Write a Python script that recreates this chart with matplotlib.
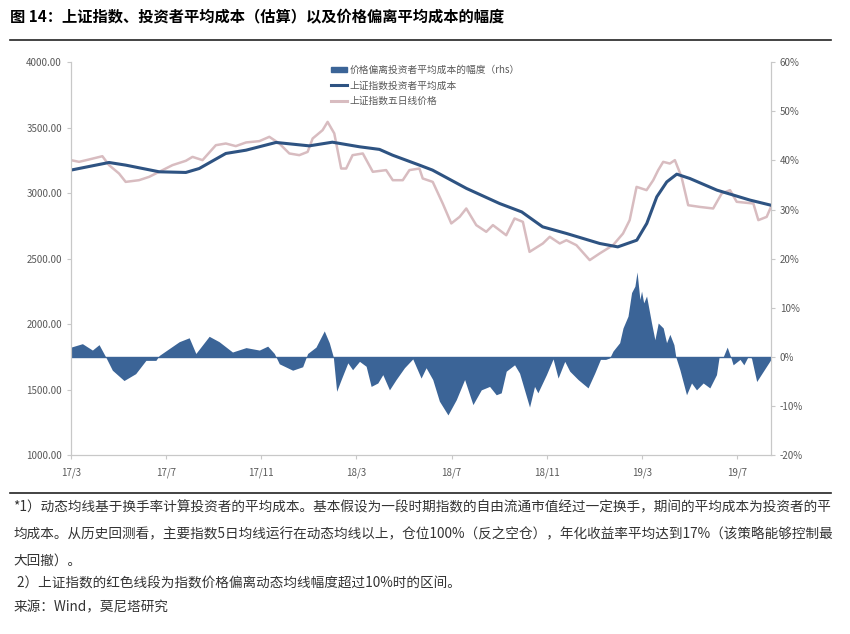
import matplotlib.pyplot as plt
from matplotlib.lines import Line2D
from matplotlib.patches import Patch

plt.rcParams['font.family'] = ['Noto Sans CJK SC', 'DejaVu Sans']

# x = months since 2017/3
tick_pos = [0, 4, 8, 12, 16, 20, 24, 28]
tick_labels = ['17/3', '17/7', '17/11', '18/3', '18/7', '18/11', '19/3', '19/7']

t_cost = [0.0, 1.6, 2.3, 3.71, 4.83, 5.39, 6.51, 7.36, 8.62, 10.02, 10.99, 12.13, 12.97, 13.52,
          14.65, 15.2, 16.63, 18.02, 18.95, 19.83, 20.84, 22.23, 22.99, 23.79, 24.21, 24.63,
          25.05, 25.47, 26.02, 27.16, 28.55, 29.43]
cost = [3176, 3234, 3214, 3163, 3158, 3188, 3303, 3328, 3387, 3361, 3389, 3354, 3334, 3290,
        3214, 3176, 3036, 2921, 2857, 2743, 2692, 2616, 2590, 2641, 2769, 2972,
        3086, 3145, 3112, 3023, 2947, 2908]

t_px = [0.0, 0.34, 0.76, 1.32, 1.6, 2.02, 2.3, 2.86, 3.28, 3.71, 4.27, 4.83, 5.11, 5.53, 6.09,
        6.51, 6.93, 7.36, 7.92, 8.34, 8.76, 9.18, 9.6, 9.95, 10.16, 10.58, 10.79, 11.07, 11.36,
        11.57, 11.84, 12.27, 12.69, 13.25, 13.53, 13.95, 14.23, 14.65, 14.79, 15.21, 15.63,
        15.99, 16.34, 16.62, 17.04, 17.46, 17.74, 18.3, 18.65, 19.0, 19.28, 19.84, 20.13,
        20.55, 20.83, 21.25, 21.81, 22.23, 22.79, 23.21, 23.49, 23.78, 24.2, 24.48, 24.69,
        24.9, 25.18, 25.39, 25.67, 25.95, 26.44, 27.0, 27.36, 27.71, 27.99, 28.69, 28.9,
        29.25, 29.43]
px5 = [3252, 3239, 3257, 3282, 3214, 3150, 3086, 3099, 3124, 3163, 3214, 3247, 3277, 3252, 3366,
       3379, 3359, 3387, 3397, 3430, 3379, 3303, 3290, 3315, 3417, 3481, 3544, 3456, 3188,
       3188, 3290, 3303, 3163, 3176, 3099, 3099, 3176, 3188, 3112, 3086, 2921,
       2769, 2819, 2883, 2756, 2705, 2756, 2679, 2807, 2781, 2552, 2616, 2667,
       2616, 2641, 2603, 2489, 2540, 2603, 2692, 2794, 3048, 3023, 3099, 3176,
       3239, 3226, 3252, 3124, 2908, 2895, 2883, 2998, 3023, 2934, 2921, 2794,
       2819, 2895]

t_dev = [0.0, 0.48, 0.9, 1.18, 1.46, 1.74, 2.23, 2.72, 3.15, 3.57,
         3.71, 4.13, 4.55, 4.97, 5.25, 5.81, 6.23, 6.79, 7.36, 7.92,
         8.27, 8.55, 8.76, 9.32, 9.74, 9.95, 10.3, 10.65, 10.86, 11.03,
         11.17, 11.36, 11.64, 11.84, 12.13, 12.41, 12.62, 12.9, 13.11, 13.39,
         13.67, 14.02, 14.37, 14.72, 14.93, 15.21, 15.49, 15.85, 16.2, 16.55,
         16.9, 17.25, 17.6, 17.88, 18.09, 18.3, 18.65, 18.86, 19.28, 19.49,
         19.63, 19.99, 20.27, 20.48, 20.76, 20.97, 21.32, 21.74, 22.02, 22.26,
         22.48, 22.65, 22.79, 23.07, 23.21, 23.42, 23.57, 23.71, 23.8, 23.92,
         23.99, 24.08, 24.2, 24.41, 24.55, 24.69, 24.9, 25.04, 25.18, 25.35,
         25.43, 25.6, 25.88, 26.09, 26.3, 26.58, 26.86, 27.14, 27.25, 27.42,
         27.59, 27.73, 27.84, 28.13, 28.29, 28.47, 28.61, 28.83, 29.11, 29.43]
dev = [2.0, 2.7, 1.4, 2.5, 0.0, -2.7, -4.8, -3.4, -0.7, -0.7,
       0.3, 1.7, 3.1, 3.9, 0.7, 4.2, 3.1, 1.0, 1.9, 1.4,
       2.2, 0.7, -1.4, -2.7, -2.0, 0.7, 2.0, 5.3, 2.9, 0.0,
       -7.0, -4.6, -1.2, -2.6, -0.9, -1.9, -6.0, -5.3, -3.6, -6.7,
       -4.6, -2.2, -0.4, -4.3, -2.2, -4.6, -9.0, -11.8, -8.7, -4.6,
       -9.7, -6.7, -6.0, -7.7, -7.3, -2.9, -1.6, -3.3, -10.2, -6.0,
       -7.3, -3.6, -0.4, -4.3, -0.9, -2.9, -4.6, -6.3, -3.3, -0.5,
       -0.5, -0.2, 1.2, 2.9, 5.9, 8.3, 13.1, 14.4, 17.3, 11.7,
       13.4, 11.0, 12.4, 6.9, 3.5, 6.9, 5.9, 2.9, 4.6, 2.5,
       0.0, -2.6, -7.7, -5.3, -6.7, -5.3, -6.3, -3.6, 0.0, 0.0,
       2.0, 0.1, -1.6, -0.5, -1.6, 0.1, -0.2, -5.0, -2.9, -0.5]

title = '图 14：上证指数、投资者平均成本（估算）以及价格偏离平均成本的幅度'
notes = [
    '*1）动态均线基于换手率计算投资者的平均成本。基本假设为一段时期指数的自由流通市值经过一定换手，期间的平均成本为投资者的平',
    '均成本。从历史回测看，主要指数5日均线运行在动态均线以上，仓位100%（反之空仓），年化收益率平均达到17%（该策略能够控制最',
    '大回撤）。',
    ' 2）上证指数的红色线段为指数价格偏离动态均线幅度超过10%时的区间。',
    '来源：Wind，莫尼塔研究',
]

c_fill = '#3b6497'
c_cost = '#2e5382'
c_px = '#d8bcc0'
c_axis = '#c8c8c8'
c_text = '#595959'

fig = plt.figure(figsize=(8.5, 6.34), dpi=100)
ax = fig.add_axes([0.0835, 0.282, 0.8235, 0.62])
ax2 = ax.twinx()

ax2.fill_between(t_dev, 0, dev, color=c_fill, lw=0)
ax2.axhline(0, color=c_fill, lw=1)
ax2.set_ylim(-20, 60)
ax2.set_yticks(range(-20, 61, 10))
ax2.set_yticklabels([f'{v}%' for v in range(-20, 61, 10)])

ax.plot(t_px, px5, color=c_px, lw=1.8)
ax.plot(t_cost, cost, color=c_cost, lw=2.2)
ax.set_ylim(1000, 4000)
ax.set_yticks(range(1000, 4001, 500))
ax.set_yticklabels([f'{v}.00' for v in range(1000, 4001, 500)])
ax.set_xlim(0, 29.43)
ax.set_xticks(tick_pos)
ax.set_xticklabels(tick_labels)
ax.set_zorder(ax2.get_zorder() + 1)
ax.patch.set_visible(False)

for a in (ax, ax2):
    for s in a.spines.values():
        s.set_color(c_axis)
        s.set_linewidth(0.8)
    a.spines['top'].set_visible(False)
    a.tick_params(colors=c_axis, labelcolor=c_text, labelsize=7, length=3, width=0.8)
ax.tick_params(axis='x', pad=6)

handles = [Patch(color=c_fill),
           Line2D([], [], color=c_cost, lw=2.2),
           Line2D([], [], color=c_px, lw=2.2)]
labels = ['价格偏离投资者平均成本的幅度（rhs）', '上证指数投资者平均成本', '上证指数五日线价格']
fig.legend(handles, labels, loc='upper left', bbox_to_anchor=(0.384, 0.905), frameon=False,
           fontsize=7, labelcolor=c_text, handlelength=1.6, handleheight=0.5,
           handletextpad=0.3, labelspacing=0.55, borderpad=0)

fig.text(0.012, 0.972, title, fontsize=11, fontweight='bold', va='center', ha='left')
fig.add_artist(Line2D([0.012, 0.978], [0.937, 0.937], color='#222222', lw=1.2))
fig.add_artist(Line2D([0.012, 0.978], [0.223, 0.223], color='#222222', lw=1.2))

ys = [0.2, 0.157, 0.115, 0.079, 0.042]
for y, s in zip(ys, notes):
    fig.text(0.016, y, s, fontsize=9.8, color='#333333', va='center', ha='left')

fig.savefig('out.png', dpi=100)
